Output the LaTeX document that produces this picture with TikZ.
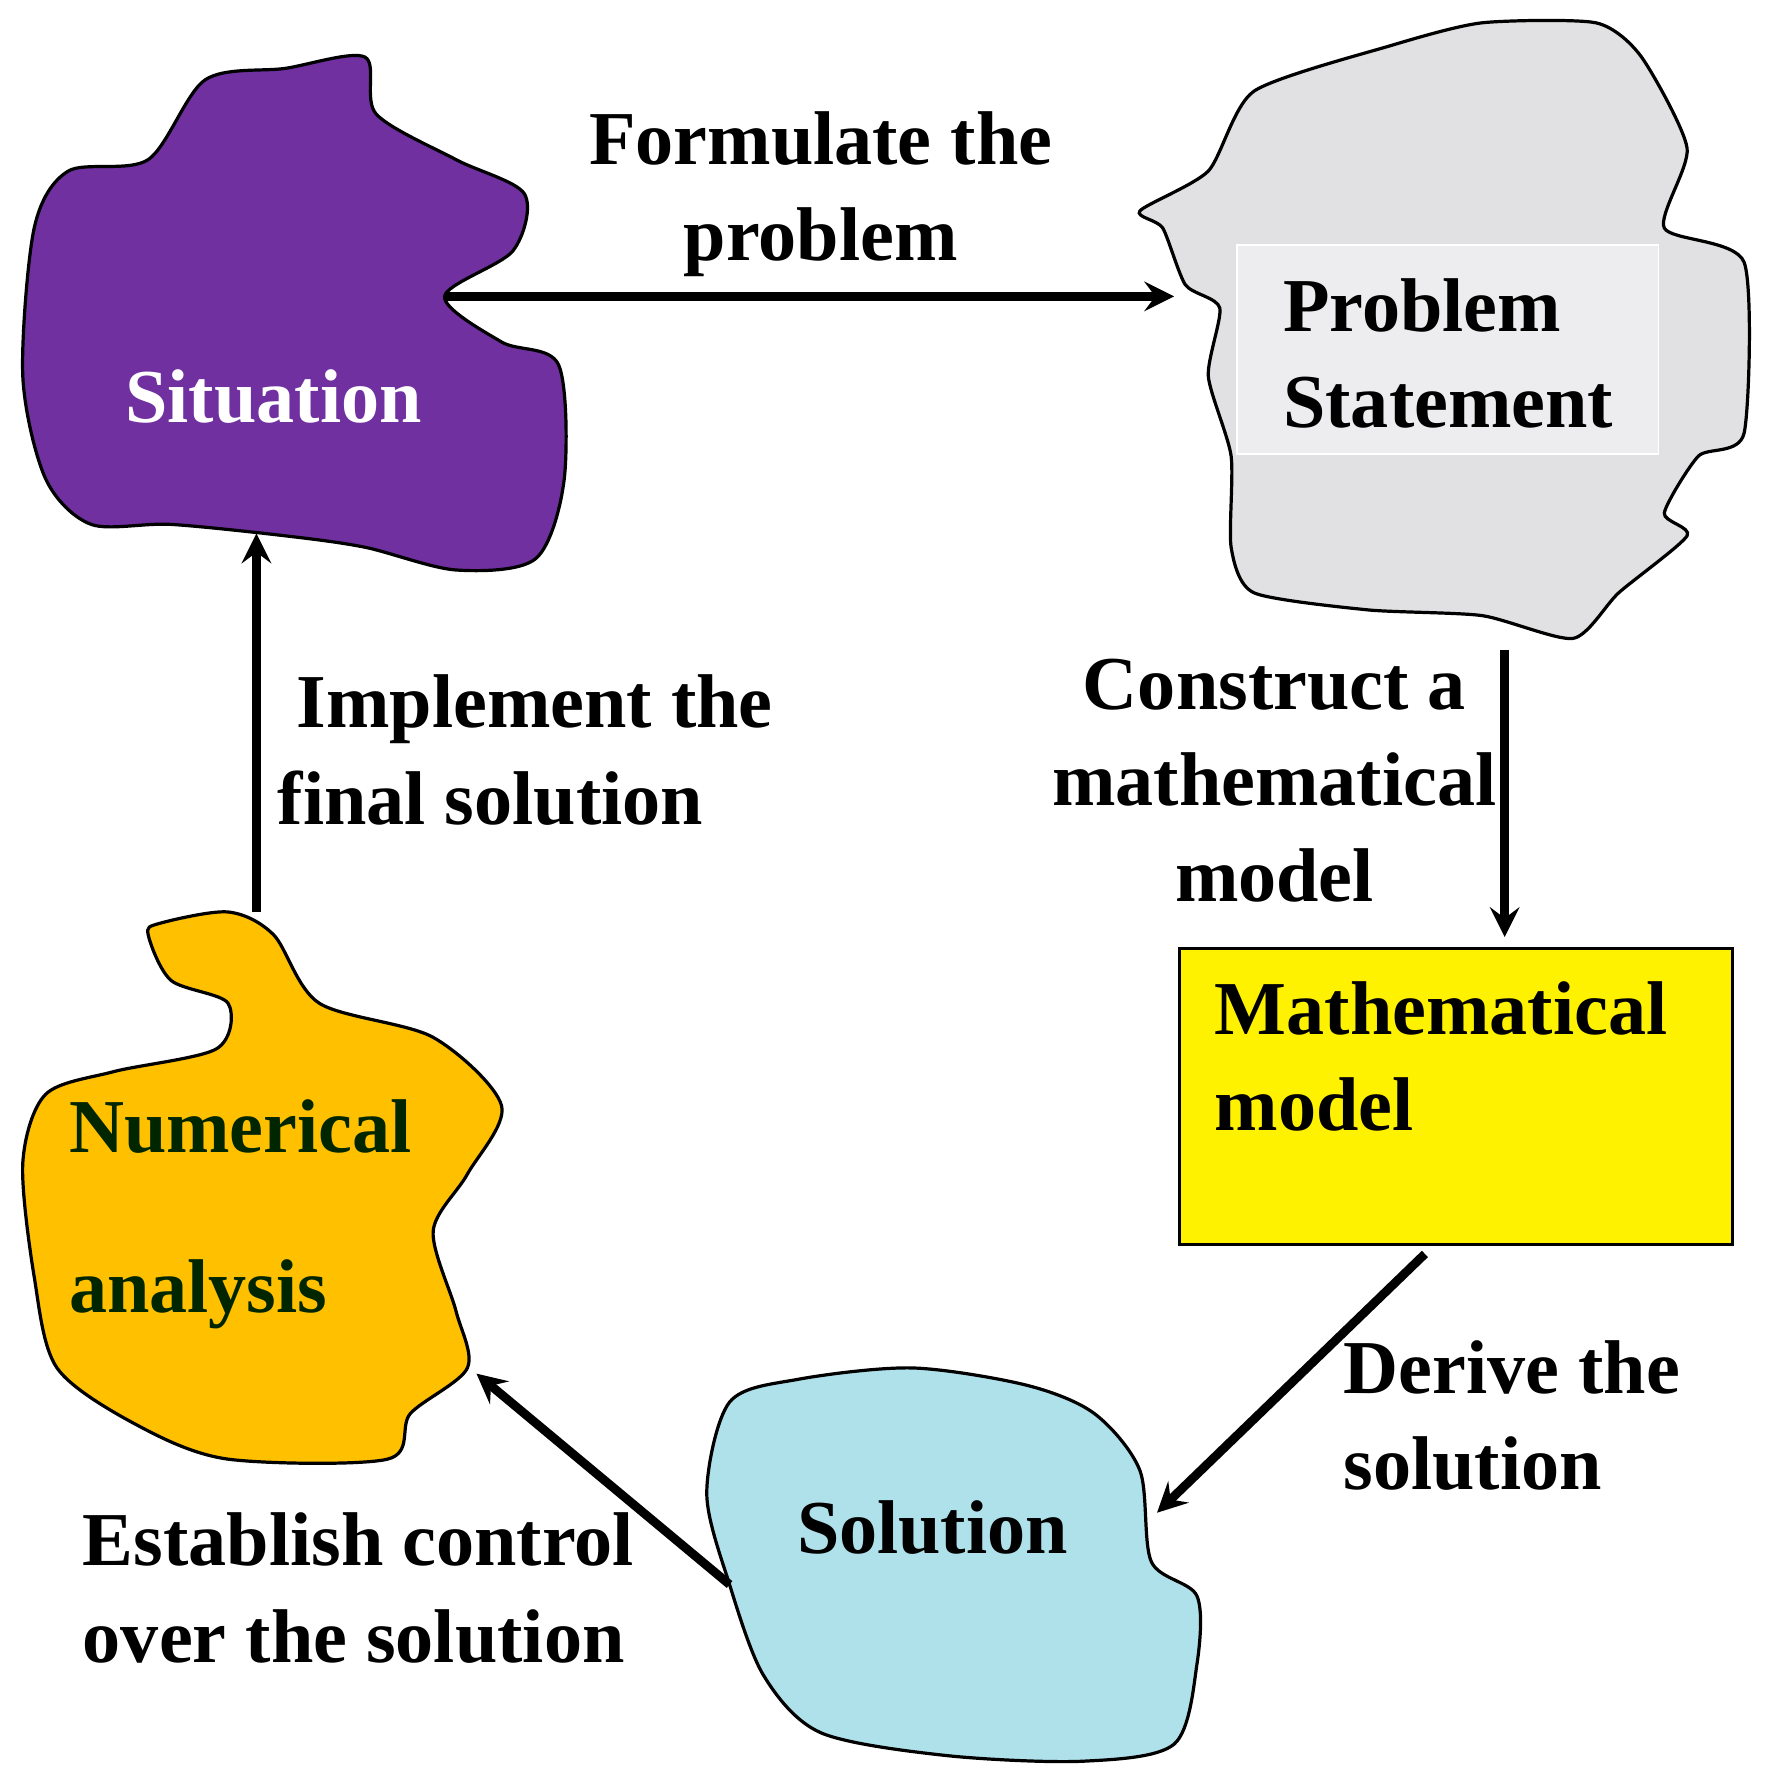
\documentclass[tikz,border=0pt]{standalone}
\usepackage{fontspec}
\setmainfont{Liberation Serif}
\usetikzlibrary{positioning}
\definecolor{sitpurple}{RGB}{112,48,160}
\definecolor{numorange}{RGB}{255,192,0}
\definecolor{modyellow}{RGB}{255,242,0}
\definecolor{solblue}{RGB}{175,225,235}
\definecolor{stonegray}{RGB}{225,225,228}
\begin{document}
\begin{tikzpicture}[x=0.01cm,y=-0.01cm,inner sep=0pt]
\tikzstyle{blob}=[draw=black, thick]
\tikzstyle{lbl}=[font=\fontsize{19}{24}\selectfont\bfseries, align=left]
\tikzstyle{clbl}=[font=\fontsize{19}{24}\selectfont\bfseries, align=center]
\tikzstyle{connect}=[-stealth, line width=2.2pt]
\useasboundingbox (0,0) rectangle (1550,1565);
% blobs
\draw[blob,fill=sitpurple] plot[smooth cycle,tension=0.5] coordinates {(60,150) (130,140) (180,70) (250,60) (320,50) (330,100) (400,140) (460,170) (450,220) (390,260) (440,300) (490,320) (495,420) (470,490) (400,500) (320,480) (250,470) (150,460) (80,460) (40,420) (20,330) (30,200)};
\draw[blob,fill=stonegray] plot[smooth cycle,tension=0.4] coordinates {(1000,185) (1060,150) (1100,80) (1220,40) (1300,20) (1400,20) (1440,50) (1480,130) (1460,200) (1530,230) (1530,380) (1490,400) (1460,450) (1480,470) (1420,520) (1380,560) (1300,540) (1200,535) (1100,520) (1080,480) (1080,400) (1060,330) (1070,270) (1040,250) (1020,200)};
\draw[draw=white, fill=stonegray!60!white] (1085,215) rectangle (1455,398);
\draw[blob,fill=modyellow] (1035,832) rectangle (1520,1092);
\draw[blob,fill=solblue] plot[smooth cycle,tension=0.5] coordinates {(640,1230) (700,1210) (800,1200) (900,1215) (960,1240) (1000,1290) (1010,1370) (1050,1400) (1050,1460) (1030,1530) (950,1545) (830,1540) (720,1520) (670,1470) (640,1390) (620,1310)};
\draw[blob,fill=numorange] plot[smooth cycle,tension=0.5] coordinates {(140,810) (200,800) (240,820) (280,880) (380,910) (440,970) (410,1030) (380,1080) (400,1150) (410,1200) (360,1240) (340,1280) (200,1280) (120,1250) (50,1200) (30,1120) (20,1020) (40,960) (100,940) (190,920) (200,880) (150,860) (130,820)};
% texts
\node[clbl,text=white] (sit) at (240,348) {Situation};
\node[lbl,anchor=west] (prob) at (1125,310) {Problem\\Statement};
\node[lbl,anchor=north west] (model) at (1065,860) {Mathematical\\model};
\node[clbl] (sol) at (818,1340) {Solution};
\node[lbl,anchor=west,text=black!85!green] (num) at (60,1065) {Numerical\\[16pt]analysis};
\node[clbl] (formulate) at (720,170) {Formulate the\\problem};
\node[clbl] (construct) at (1118,685) {Construct a\\mathematical\\model};
\node[lbl,anchor=west] (derive) at (1178,1242) {Derive the\\solution};
\node[lbl,anchor=west] (establish) at (72,1393) {Establish control\\over the solution};
\node[lbl,anchor=west] (implement) at (243,658) {\ Implement the\\final solution};
% arrow ends
\coordinate (sitE) at (390,260); \coordinate (probW) at (1030,260);
\coordinate (probS) at (1320,570); \coordinate (modN) at (1320,822);
\coordinate (modS) at (1250,1100); \coordinate (solE) at (1015,1327);
\coordinate (solW) at (640,1390); \coordinate (numE) at (418,1205);
\coordinate (numN) at (225,800); \coordinate (sitS) at (225,468);
\draw[connect] (sitE) -- (probW);
\draw[connect] (probS) -- (modN);
\draw[connect] (modS) -- (solE);
\draw[connect] (solW) -- (numE);
\draw[connect] (numN) -- (sitS);
\end{tikzpicture}
\end{document}
